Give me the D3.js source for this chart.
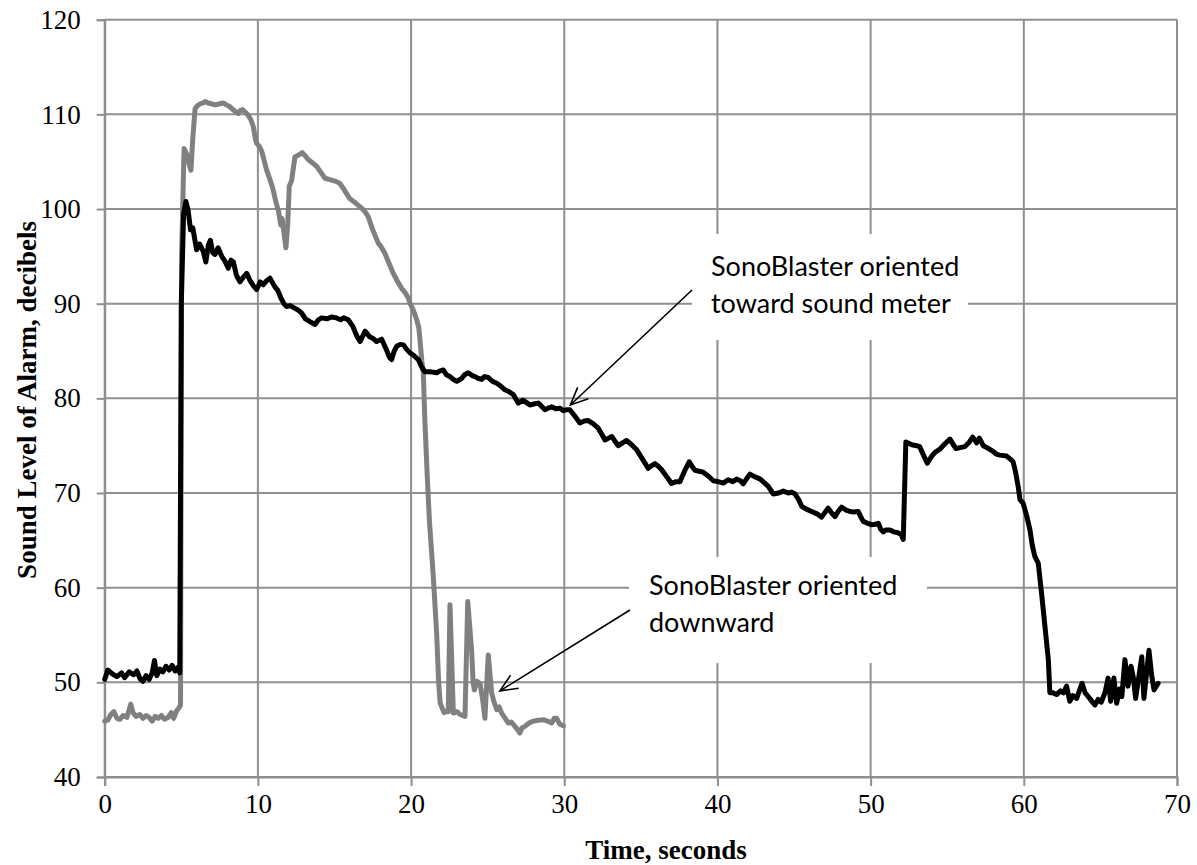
<!DOCTYPE html>
<html>
<head>
<meta charset="utf-8">
<script src="https://cdn.jsdelivr.net/npm/d3@7/dist/d3.min.js"></script>
<style>
  html, body { margin: 0; padding: 0; background: #fff; }
  svg { display: block; }
</style>
</head>
<body>
<svg id="chart" width="1197" height="865"></svg>
<script>
// Sound level readings (time in seconds, level in dB)
const towardTime = [
  0.0, 0.2, 0.5, 0.8, 1.1, 1.3, 1.6, 1.9, 2.1, 2.3, 2.5, 2.7, 2.9, 3.1, 3.25, 3.4, 3.6, 3.8, 4.0, 4.2, 4.4, 4.6, 4.8, 4.9,
  5.0, 5.15, 5.3, 5.45, 5.6, 5.75, 6.0, 6.2, 6.44, 6.6, 6.77, 6.9, 7.05, 7.2, 7.4, 7.64, 7.85, 8.07, 8.25, 8.4, 8.6, 8.83,
  9.05, 9.27, 9.5, 9.7, 9.92, 10.15, 10.35, 10.55, 10.79, 11.1, 11.3, 11.5, 11.7, 11.88, 12.1, 12.42, 12.65, 12.86, 13.1,
  13.4, 13.73, 13.95, 14.16, 14.5, 14.8, 15.14, 15.4, 15.6, 15.9, 16.2, 16.45, 16.67, 17.0, 17.3, 17.55, 17.75, 18.08,
  18.4, 18.6, 18.73, 18.9, 19.06, 19.3, 19.5, 19.7, 19.93, 20.2, 20.47, 20.7, 20.9, 21.3, 21.67, 21.9, 22.1, 22.3, 22.54,
  22.75, 22.98, 23.3, 23.5, 23.73, 24.0, 24.17, 24.4, 24.6, 24.8, 25.04, 25.3, 25.59, 25.85, 26.13, 26.4, 26.67, 26.85,
  27.0, 27.3, 27.5, 27.76, 28.0, 28.3, 28.5, 28.74, 29.0, 29.18, 29.45, 29.72, 29.94, 30.16, 30.37, 30.7, 31.02, 31.3,
  31.57, 31.9, 32.22, 32.45, 32.66, 32.9, 33.1, 33.3, 33.53, 33.8, 34.07, 34.4, 34.73, 35.1, 35.48, 35.7, 35.92, 36.15,
  36.36, 36.7, 37.0, 37.3, 37.55, 37.85, 38.16, 38.35, 38.53, 38.8, 39.07, 39.4, 39.73, 40.05, 40.38, 40.7, 41.0, 41.25,
  41.5, 41.68, 41.9, 42.12, 42.45, 42.77, 43.05, 43.32, 43.64, 44.0, 44.3, 44.62, 44.85, 45.06, 45.3, 45.5, 45.8, 46.15,
  46.5, 46.8, 47.0, 47.23, 47.45, 47.67, 47.9, 48.1, 48.4, 48.65, 48.9, 49.19, 49.35, 49.52, 49.8, 50.06, 50.3, 50.5,
  50.65, 50.82, 51.0, 51.26, 51.5, 51.8, 52.0, 52.13, 52.3, 52.68, 53.0, 53.2, 53.45, 53.7, 53.95, 54.2, 54.5, 54.85,
  55.18, 55.4, 55.57, 55.85, 56.15, 56.45, 56.66, 56.8, 56.92, 57.1, 57.35, 57.7, 58.0, 58.2, 58.44, 58.88, 59.1, 59.3,
  59.45, 59.63, 59.75, 59.96, 60.2, 60.4, 60.55, 60.72, 60.94, 61.05, 61.16, 61.38, 61.6, 61.7, 61.9, 62.14, 62.4, 62.6,
  62.79, 63.0, 63.2, 63.45, 63.8, 64.0, 64.2, 64.4, 64.64, 64.85, 65.05, 65.3, 65.5, 65.67, 65.88, 66.06, 66.25, 66.4,
  66.6, 66.8, 67.0, 67.15, 67.3, 67.7, 67.84, 68.17, 68.34, 68.5, 68.77
];
const towardLevel = [
  50.3, 51.3, 50.9, 50.6, 51.0, 50.5, 51.1, 50.8, 51.2, 50.4, 50.1, 50.7, 50.3, 51.0, 52.3, 50.7, 51.4, 51.1, 51.7, 51.3, 51.8, 51.2, 51.6, 51.0,
  90.0, 99.5, 100.8, 99.8, 97.8, 98.0, 95.7, 96.3, 95.5, 94.4, 96.2, 96.7, 95.4, 95.2, 95.9, 95.0, 94.5, 93.75, 94.6, 94.4, 93.0, 92.3,
  92.8, 93.2, 92.4, 91.9, 91.5, 92.3, 92.0, 92.4, 92.7, 91.8, 91.4, 90.6, 90.0, 89.7, 89.8, 89.5, 89.3, 89.0, 88.4,
  88.1, 87.8, 88.3, 88.5, 88.4, 88.6, 88.5, 88.3, 88.5, 88.3, 87.6, 86.6, 86.0, 87.1, 86.5, 86.3, 86.0, 86.25,
  85.1, 84.3, 84.1, 85.0, 85.5, 85.7, 85.65, 85.2, 84.8, 84.5, 84.1, 83.3, 82.8, 82.8, 82.7, 82.9, 83.0, 82.5, 82.3,
  82.0, 81.8, 82.1, 82.5, 82.7, 82.4, 82.3, 82.1, 82.0, 82.3, 82.2, 81.8, 81.6, 81.3, 80.9, 80.7, 80.4, 79.9,
  79.5, 79.8, 79.6, 79.3, 79.4, 79.5, 79.2, 78.8, 79.0, 79.1, 78.9, 78.95, 78.7, 78.8, 78.8, 78.1, 77.4, 77.6,
  77.65, 77.3, 76.85, 76.2, 75.6, 75.8, 75.97, 75.5, 75.0, 75.3, 75.55, 75.1, 74.56, 73.6, 72.6, 72.9, 73.1, 72.8,
  72.45, 71.7, 71.0, 71.2, 71.2, 72.3, 73.3, 72.8, 72.4, 72.3, 72.2, 71.8, 71.3, 71.2, 71.05, 71.4, 71.2, 71.47,
  71.3, 70.97, 71.5, 72.0, 71.7, 71.5, 71.1, 70.7, 69.9, 70.0, 70.2, 70.0, 70.1, 69.9, 69.3, 68.6, 68.3, 68.05,
  67.8, 67.45, 67.9, 68.4, 67.9, 67.5, 68.1, 68.5, 68.2, 68.05, 68.0, 68.05, 67.5, 67.0, 66.8, 66.65, 66.7, 66.8,
  66.2, 65.9, 66.1, 66.1, 65.9, 65.8, 65.6, 65.1, 75.4, 75.1, 75.0, 74.9, 74.0, 73.15, 73.8, 74.3, 74.6, 75.2,
  75.7, 75.1, 74.7, 74.8, 74.9, 75.4, 75.9, 75.6, 75.3, 75.8, 75.0, 74.7, 74.4, 74.1, 74.0, 73.9, 73.6, 73.3,
  72.3, 70.7, 69.3, 68.9, 67.5, 66.1, 64.5, 63.3, 62.6, 61.0, 59.4, 55.9, 52.4, 48.9, 48.9, 48.7, 49.1, 48.9,
  49.6, 48.0, 48.6, 48.3, 49.9, 48.9, 48.5, 48.1, 47.6, 48.2, 47.9, 48.9, 50.45, 48.0, 50.45, 47.8, 49.3, 48.5,
  52.4, 49.6, 51.7, 50.5, 48.3, 52.7, 48.3, 53.4, 50.8, 49.2, 49.9
];

const downTime = [
  0.0, 0.2, 0.4, 0.6, 0.8, 1.0, 1.2, 1.45, 1.7, 1.85, 2.05, 2.3, 2.5, 2.7, 2.9, 3.1, 3.3, 3.5, 3.7, 3.9, 4.15, 4.35, 4.5,
  4.7, 4.85, 4.95, 5.02, 5.18, 5.35, 5.5, 5.63, 5.75, 5.9, 6.05, 6.22, 6.4, 6.55, 6.75, 7.0, 7.2, 7.45, 7.74, 7.95, 8.18,
  8.45, 8.72, 8.85, 9.0, 9.2, 9.37, 9.55, 9.7, 9.85, 9.92, 10.1, 10.25, 10.4, 10.57, 10.79, 10.95, 11.1, 11.2, 11.33,
  11.5, 11.58, 11.83, 11.95, 12.05, 12.2, 12.42, 12.65, 12.9, 13.1, 13.29, 13.55, 13.84, 14.1, 14.38, 14.7, 15.14, 15.35,
  15.57, 15.8, 16.0, 16.4, 16.77, 17.0, 17.2, 17.5, 17.86, 18.05, 18.3, 18.55, 18.84, 19.1, 19.39, 19.6, 19.82, 19.93,
  20.15, 20.37, 20.5, 20.58, 20.7, 20.8, 20.9, 21.05, 21.2, 21.45, 21.67, 21.8, 21.9, 22.15, 22.35, 22.43, 22.54, 22.76,
  23.0, 23.2, 23.52, 23.7, 23.95, 24.05, 24.13, 24.3, 24.5, 24.67, 24.82, 25.04, 25.26, 25.4, 25.59, 25.75, 25.91, 26.1,
  26.35, 26.55, 26.78, 26.95, 27.1, 27.25, 27.43, 27.7, 27.98, 28.3, 28.63, 28.9, 29.18, 29.35, 29.5, 29.7, 29.94
];
const downLevel = [
  45.9, 46.0, 46.6, 46.9, 46.2, 46.1, 46.5, 46.3, 47.7, 46.8, 46.4, 46.6, 46.2, 46.5, 46.3, 45.9, 46.4, 46.2, 46.5, 46.1, 46.3, 46.8, 46.2,
  47.0, 47.3, 47.6, 95.0, 106.4, 105.8, 104.8, 104.1, 107.5, 110.6, 110.9, 111.1, 111.2, 111.35, 111.2, 111.1, 111.0, 111.1, 111.2, 111.0, 110.8,
  110.4, 110.1, 110.4, 110.5, 110.2, 109.9, 109.4, 108.7, 107.3, 106.95, 106.6, 106.1, 105.2, 104.1, 103.1, 102.3, 101.3, 100.6, 99.9,
  98.3, 99.0, 95.9, 98.5, 102.4, 103.0, 105.5, 105.7, 105.95, 105.6, 105.2, 104.9, 104.5, 103.9, 103.25, 103.1, 102.9, 102.7,
  102.2, 101.6, 101.1, 100.6, 100.1, 99.7, 99.2, 97.8, 96.4, 96.0, 95.3, 94.3, 93.2, 92.4, 91.6, 91.2, 90.6, 90.05,
  89.3, 88.3, 87.5, 86.2, 84.0, 82.7, 77.7, 72.0, 67.0, 61.2, 55.2, 50.0, 47.8, 46.8, 47.0, 46.9, 58.2, 46.75,
  46.9, 46.6, 46.4, 58.55, 53.45, 50.0, 49.2, 50.1, 49.9, 48.2, 46.2, 52.9, 48.9, 48.0, 47.1, 47.4, 46.75, 46.3,
  45.7, 45.8, 45.35, 45.0, 44.65, 45.2, 45.35, 45.7, 45.9, 46.0, 46.05, 45.9, 45.7, 46.2, 46.2, 45.6, 45.4
];

const xTicks = [0, 10, 20, 30, 40, 50, 60, 70];
const yTicks = [40, 50, 60, 70, 80, 90, 100, 110, 120];
const xTitle = "Time, seconds";
const yTitle = "Sound Level of Alarm, decibels";
const towardNote = ["SonoBlaster oriented", "toward sound meter"];
const downNote = ["SonoBlaster oriented", "downward"];

const svg = d3.select("#chart");
const x = d3.scaleLinear().domain([0, 70]).range([104.7, 1177]);
const y = d3.scaleLinear().domain([40, 120]).range([777, 19.7]);

const gridColor = "#8f8f8f";
const serif = "'Liberation Serif', 'Times New Roman', serif";
const sans = "Lato, 'Open Sans', sans-serif";

// grid lines
const grid = svg.append("g").attr("stroke", gridColor).attr("stroke-width", 2);
grid.selectAll("line.h").data(yTicks).join("line")
  .attr("x1", x(0)).attr("x2", x(70))
  .attr("y1", d => y(d)).attr("y2", d => y(d));
grid.selectAll("line.v").data(xTicks).join("line")
  .attr("y1", y(40)).attr("y2", y(120))
  .attr("x1", d => x(d)).attr("x2", d => x(d));

// axes
const yAxis = d3.axisLeft(y).tickValues(yTicks).tickSize(8).tickPadding(16).tickFormat(d3.format("d"));
const xAxis = d3.axisBottom(x).tickValues(xTicks).tickSize(9).tickPadding(8).tickFormat(d3.format("d"));
const gy = svg.append("g").attr("transform", `translate(${x(0)},0)`).call(yAxis);
const gx = svg.append("g").attr("transform", `translate(0,${y(40)})`).call(xAxis);
[gy, gx].forEach(g => {
  g.select(".domain").attr("stroke", gridColor).attr("stroke-width", 2);
  g.selectAll(".tick line").attr("stroke", gridColor).attr("stroke-width", 2);
  g.selectAll(".tick text").attr("fill", "#000").attr("font-family", serif).attr("font-size", 27);
});

// annotation boxes (white backgrounds hide the grid behind the text)
const notes = [
  { lines: towardNote, box: [692, 234, 968, 340], tx: 711, ty: 267, tip: [30.4, 79.3], from: [692, 290] },
  { lines: downNote, box: [629, 557, 927, 663], tx: 649, ty: 586, tip: [25.8, 49.1], from: [630, 610] }
];
notes.forEach(n => {
  svg.append("rect")
    .attr("x", n.box[0]).attr("y", n.box[1])
    .attr("width", n.box[2] - n.box[0]).attr("height", n.box[3] - n.box[1])
    .attr("fill", "#fff");
});

// data series
const line = d3.line().x(d => x(d[0])).y(d => y(d[1])).curve(d3.curveLinear);
svg.append("path")
  .datum(downTime.map((t, i) => [t, downLevel[i]]))
  .attr("d", line).attr("fill", "none")
  .attr("stroke", "#808080").attr("stroke-width", 5)
  .attr("stroke-linejoin", "round").attr("stroke-linecap", "round");
svg.append("path")
  .datum(towardTime.map((t, i) => [t, towardLevel[i]]))
  .attr("d", line).attr("fill", "none")
  .attr("stroke", "#000").attr("stroke-width", 5)
  .attr("stroke-linejoin", "round").attr("stroke-linecap", "round");

// annotation text and arrows
notes.forEach(n => {
  const t = svg.append("text").attr("font-family", sans).attr("font-size", 27).attr("fill", "#000");
  n.lines.forEach((s, i) => {
    t.append("tspan").attr("x", n.tx).attr("y", n.ty + i * 37).attr("dy", "0.35em").text(s);
  });
  const tx = x(n.tip[0]), ty = y(n.tip[1]);
  const ang = Math.atan2(n.from[1] - ty, n.from[0] - tx);
  const len = 19, spread = 0.42;
  const g = svg.append("g").attr("stroke", "#000").attr("stroke-width", 1.6).attr("fill", "none");
  g.append("line").attr("x1", n.from[0]).attr("y1", n.from[1]).attr("x2", tx).attr("y2", ty);
  g.append("path").attr("d",
    `M${tx + len * Math.cos(ang - spread)},${ty + len * Math.sin(ang - spread)}L${tx},${ty}L${tx + len * Math.cos(ang + spread)},${ty + len * Math.sin(ang + spread)}`);
});

// axis titles
svg.append("text")
  .attr("x", 666).attr("y", 850).attr("dy", "0.35em")
  .attr("text-anchor", "middle").attr("font-family", serif).attr("font-weight", "bold").attr("font-size", 27)
  .text(xTitle);
svg.append("text")
  .attr("transform", "translate(27,400) rotate(-90)").attr("dy", "0.35em")
  .attr("text-anchor", "middle").attr("font-family", serif).attr("font-weight", "bold").attr("font-size", 27)
  .text(yTitle);
</script>
</body>
</html>
